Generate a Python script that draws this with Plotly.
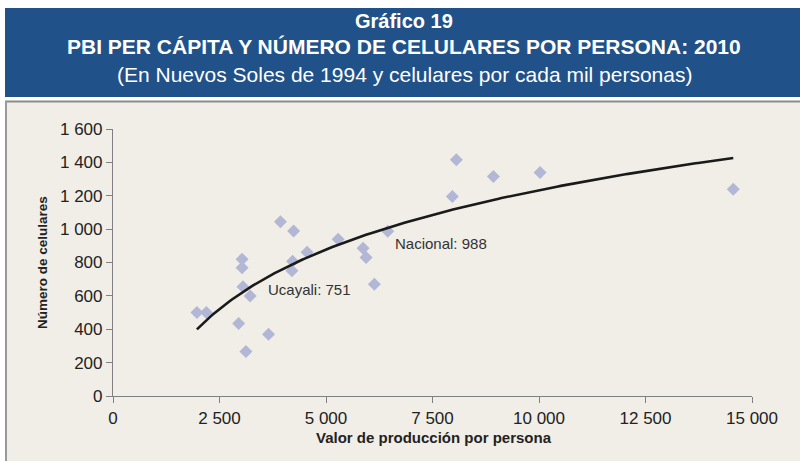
import numpy as np
import plotly.graph_objects as go

# Data
pbi_per_capita = [1970, 2190, 2950, 3030, 3030, 3050, 3220, 3120, 3650, 3930,
                  4240, 4215, 4200, 4555, 5285, 5870, 5940, 6135, 6450,
                  8060, 7965, 8930, 10025, 14560]
celulares = [500, 500, 434, 820, 768, 654, 600, 267, 370, 1044,
             989, 808, 751, 861, 939, 885, 830, 670, 988,
             1415, 1195, 1315, 1339, 1239]

x_ticks = [0, 2500, 5000, 7500, 10000, 12500, 15000]
x_labels = ["0", "2 500", "5 000", "7 500", "10 000", "12 500", "15 000"]
y_ticks = [0, 200, 400, 600, 800, 1000, 1200, 1400, 1600]
y_labels = ["0", "200", "400", "600", "800", "1 000", "1 200", "1 400", "1 600"]

title_lines = ["Gráfico 19",
               "PBI PER CÁPITA Y NÚMERO DE CELULARES POR PERSONA: 2010",
               "(En Nuevos Soles de 1994 y celulares por cada mil personas)"]
labels = ["Ucayali: 751", "Nacional: 988"]

# Logarithmic trend line fitted to the data
xa = np.array(pbi_per_capita, dtype=float)
ya = np.array(celulares, dtype=float)
b, a = np.polyfit(np.log(xa), ya, 1)
xt = np.linspace(xa.min(), xa.max(), 200)
yt = a + b * np.log(xt)

W, H = 800, 461
L, R, T, B = 113, 48, 129, 65
pw, ph = W - L - R, H - T - B


def px(x):
    return (x - L) / pw


def py(y):
    return (H - B - y) / ph


FONT = "Liberation Sans, Arial, sans-serif"

fig = go.Figure()
fig.add_trace(go.Scatter(x=pbi_per_capita, y=celulares, mode="markers",
                         marker=dict(symbol="diamond", size=10, color="#B3B7D6",
                                     line=dict(width=0)),
                         showlegend=False, hoverinfo="x+y"))
fig.add_trace(go.Scatter(x=xt, y=yt, mode="lines",
                         line=dict(color="#1a1a1a", width=2.6),
                         showlegend=False, hoverinfo="skip"))

shapes = [
    dict(type="rect", xref="paper", yref="paper", x0=px(5), x1=px(800),
         y0=py(97), y1=py(8), fillcolor="#215189", line=dict(width=0), layer="below"),
    dict(type="rect", xref="paper", yref="paper", x0=px(5), x1=px(800),
         y0=py(461), y1=py(101), fillcolor="#F1EEE7", line=dict(width=0), layer="below"),
    dict(type="line", xref="paper", yref="paper", x0=px(5), x1=px(800),
         y0=py(101.5), y1=py(101.5), line=dict(color="#8c8c8c", width=2), layer="below"),
    dict(type="line", xref="paper", yref="paper", x0=px(6), x1=px(6),
         y0=py(101), y1=py(461), line=dict(color="#9a9a9a", width=2), layer="below"),
]

annotations = []
title_specs = [(21, 20, True), (47, 21, True), (75, 21, False)]
for txt, (yy, fs, bold) in zip(title_lines, title_specs):
    annotations.append(dict(
        text=("<b>%s</b>" % txt) if bold else txt,
        xref="paper", yref="paper", x=px(404), y=py(yy),
        xanchor="center", yanchor="middle", showarrow=False,
        font=dict(family=FONT, size=fs, color="white")))

annotations.append(dict(text="<b>Número de celulares</b>", xref="paper", yref="paper",
                        x=px(42), y=py(263), textangle=-90, showarrow=False,
                        xanchor="center", yanchor="middle",
                        font=dict(family=FONT, size=13.5, color="#222222")))
annotations.append(dict(text="<b>Valor de producción por persona</b>", xref="paper", yref="paper",
                        x=px(434), y=py(437), showarrow=False,
                        xanchor="center", yanchor="middle",
                        font=dict(family=FONT, size=15, color="#222222")))
offsets = {"Ucayali: 751": (266, 289), "Nacional: 988": (393, 243)}
for txt in labels:
    ox, oy = offsets[txt]
    annotations.append(dict(text=txt, xref="paper", yref="paper", x=px(ox), y=py(oy),
                            xanchor="left", yanchor="middle", showarrow=False,
                            font=dict(family=FONT, size=15, color="#333333")))

axis_common = dict(showline=True, linecolor="#808080", linewidth=1.2, ticks="outside",
                   ticklen=6, tickcolor="#808080", showgrid=False, zeroline=False,
                   tickfont=dict(family=FONT, size=17, color="#222222"))

fig.update_layout(
    width=W, height=H, margin=dict(l=L, r=R, t=T, b=B),
    paper_bgcolor="white", plot_bgcolor="rgba(0,0,0,0)",
    shapes=shapes, annotations=annotations,
    xaxis=dict(range=[0, 15000], tickvals=x_ticks, ticktext=x_labels, **axis_common),
    yaxis=dict(range=[0, 1600], tickvals=y_ticks, ticktext=y_labels, **axis_common),
)

fig.write_html("out.html", config={"displayModeBar": False},
               post_script="document.body.style.margin='0px';document.body.style.padding='0px';")
